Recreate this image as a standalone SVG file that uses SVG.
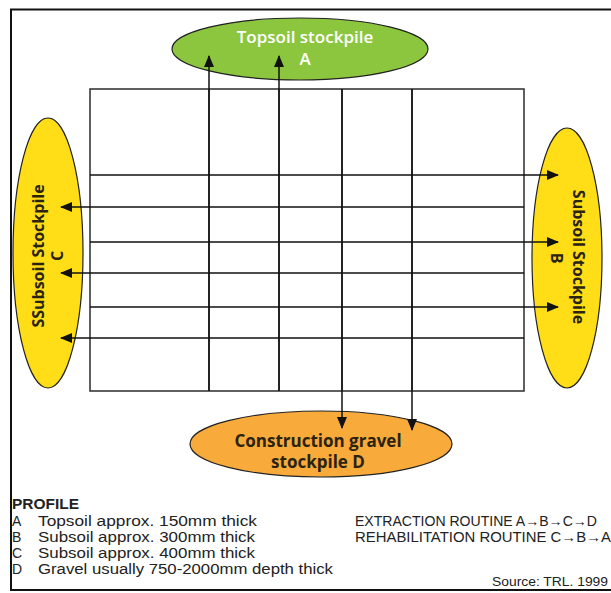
<svg xmlns="http://www.w3.org/2000/svg" width="611" height="593" viewBox="0 0 611 593">
<style>
.t{font-family:"Open Sans","Noto Sans","Liberation Sans",sans-serif;}
.l{font-family:"Liberation Sans",Arial,sans-serif;}
.grid{fill:none;stroke:#2b2b2b;stroke-width:1.5;}
.arr{fill:none;stroke:#111;stroke-width:1.5;marker-end:url(#ah);}
.node{stroke:#222;stroke-width:1.2;}
.lab{font-size:17px;font-weight:bold;fill:#2a2310;text-anchor:middle;}
.rot{font-size:16px;font-weight:bold;fill:#2a2310;text-anchor:middle;}
.leg{font-size:14px;fill:#222;}
</style>
<defs>
<marker id="ah" markerWidth="12" markerHeight="10" refX="11" refY="5" orient="auto" markerUnits="userSpaceOnUse">
<path d="M0,0 L12,5 L0,10 z" fill="#111"/>
</marker>
</defs>
<rect width="611" height="593" fill="#fff"/>
<g id="frame" fill="none" stroke="#111" stroke-width="2">
<path d="M611,9.5 H11 V590 H611"/>
</g>
<g id="grid" class="grid">
<rect x="90" y="89" width="434" height="302"/>
<line x1="209" y1="89" x2="209" y2="391"/>
<line x1="279" y1="89" x2="279" y2="391"/>
<line x1="342" y1="89" x2="342" y2="391"/>
<line x1="412" y1="89" x2="412" y2="391"/>
</g>
<g id="nodeA">
<ellipse class="node" cx="300" cy="49" rx="128" ry="31" fill="#8cc63f"/>
<text class="t" x="305" y="43" font-size="17" font-weight="600" fill="#fff" text-anchor="middle">Topsoil stockpile</text>
<text class="t" x="305" y="65" font-size="17" font-weight="600" fill="#fff" text-anchor="middle">A</text>
</g>
<g id="nodeC">
<ellipse class="node" cx="48" cy="253" rx="35" ry="135" fill="#ffdd17"/>
<text class="t rot" transform="translate(44,256) rotate(-90)">SSubsoil Stockpile</text>
<text class="t rot" transform="translate(63,256) rotate(-90)">C</text>
</g>
<g id="nodeB">
<ellipse class="node" cx="567" cy="258" rx="35" ry="130" fill="#ffdd17"/>
<text class="t rot" transform="translate(573,257) rotate(90)">Subsoil Stockpile</text>
<text class="t rot" transform="translate(551,258) rotate(90)">B</text>
</g>
<g id="nodeD">
<ellipse class="node" cx="321" cy="444" rx="131" ry="33" fill="#f8aa3a"/>
<text class="t lab" x="318" y="447">Construction gravel</text>
<text class="t lab" x="318" y="468">stockpile D</text>
</g>
<g id="connectors">
<line class="arr" x1="209" y1="391" x2="209" y2="56"/>
<line class="arr" x1="279" y1="391" x2="279" y2="56"/>
<line class="arr" x1="342" y1="89" x2="342" y2="428"/>
<line class="arr" x1="412" y1="89" x2="412" y2="430"/>
<line class="arr" x1="90" y1="175" x2="558" y2="175"/>
<line class="arr" x1="90" y1="242" x2="558" y2="242"/>
<line class="arr" x1="90" y1="307" x2="558" y2="307"/>
<line class="arr" x1="524" y1="207" x2="61" y2="207"/>
<line class="arr" x1="524" y1="273" x2="61" y2="273"/>
<line class="arr" x1="524" y1="338" x2="61" y2="338"/>
</g>
<g id="legend" class="l">
<text x="12" y="509" font-size="14" font-weight="bold" fill="#222" textLength="67" lengthAdjust="spacingAndGlyphs">PROFILE</text>
<text class="leg" x="12" y="526">A</text><text class="leg" x="38" y="526" textLength="219" lengthAdjust="spacingAndGlyphs">Topsoil approx. 150mm thick</text>
<text class="leg" x="12" y="542">B</text><text class="leg" x="38" y="542" textLength="217" lengthAdjust="spacingAndGlyphs">Subsoil approx. 300mm thick</text>
<text class="leg" x="12" y="558">C</text><text class="leg" x="38" y="558" textLength="217" lengthAdjust="spacingAndGlyphs">Subsoil approx. 400mm thick</text>
<text class="leg" x="12" y="574">D</text><text class="leg" x="38" y="574" textLength="295" lengthAdjust="spacingAndGlyphs">Gravel usually 750-2000mm depth thick</text>
<text class="leg" x="355" y="526" textLength="242" lengthAdjust="spacingAndGlyphs">EXTRACTION ROUTINE A→B→C→D</text>
<text class="leg" x="355" y="542" textLength="256" lengthAdjust="spacingAndGlyphs">REHABILITATION ROUTINE C→B→A</text>
<text x="608" y="586" font-size="13" fill="#222" text-anchor="end" textLength="116" lengthAdjust="spacingAndGlyphs">Source: TRL. 1999</text>
</g>
</svg>
